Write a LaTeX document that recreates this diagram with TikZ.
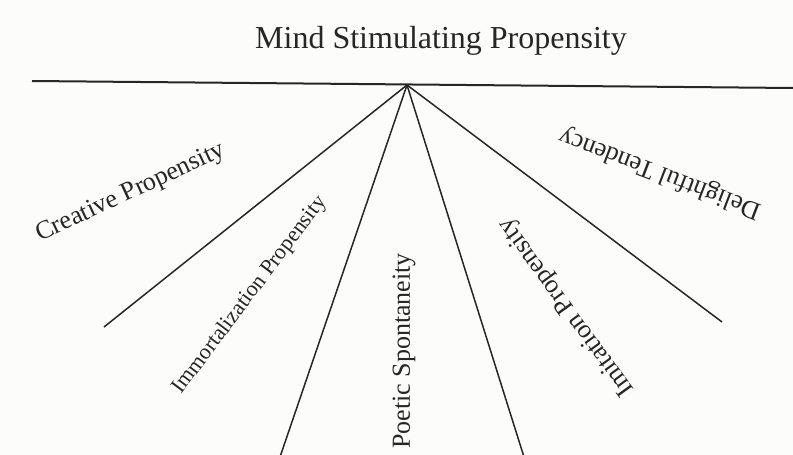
\documentclass[tikz,border=0pt]{standalone}
\usepackage{fontspec}
\setmainfont{Liberation Serif}
\definecolor{ink}{HTML}{262626}
\definecolor{paper}{HTML}{FCFCFA}
\begin{document}
\begin{tikzpicture}[x=1pt,y=-1pt,
  axisline/.style={draw=ink,line width=2pt},
  spoke/.style={draw=ink,line width=1.5pt},
  lbl/.style={text=ink,inner sep=0pt,font=\fontsize{26}{28}\selectfont},
  smalllbl/.style={text=ink,inner sep=0pt,font=\fontsize{22}{24}\selectfont}]
\fill[paper] (0,0) rectangle (793,455);
\useasboundingbox (0,0) rectangle (793,455);
\node[text=ink,inner sep=0pt,anchor=base,font=\fontsize{32}{34}\selectfont] (title) at (441,48) {Mind Stimulating Propensity};
\coordinate (hub) at (407,85);
\coordinate (left) at (32,81);
\coordinate (right) at (793,88);
\coordinate (e1) at (104,327);
\coordinate (e2) at (280,457);
\coordinate (e3) at (524,457);
\coordinate (e4) at (722,322);
\draw[axisline] (left) -- (right);
\draw[spoke] (hub) -- (e1);
\draw[spoke] (hub) -- (e2);
\draw[spoke] (hub) -- (e3);
\draw[spoke] (hub) -- (e4);
\node[lbl,rotate=25] (creative) at (131,193) {Creative Propensity};
\node[smalllbl,rotate=53] (immort) at (250,295) {Immortalization Propensity};
\node[lbl,rotate=90] (poetic) at (404,351) {Poetic Spontaneity};
\node[lbl,rotate=126] (imitation) at (567,307) {Imitation Propensity};
\node[lbl,rotate=159] (delight) at (660,173) {Delightful Tendency};
\end{tikzpicture}
\end{document}
